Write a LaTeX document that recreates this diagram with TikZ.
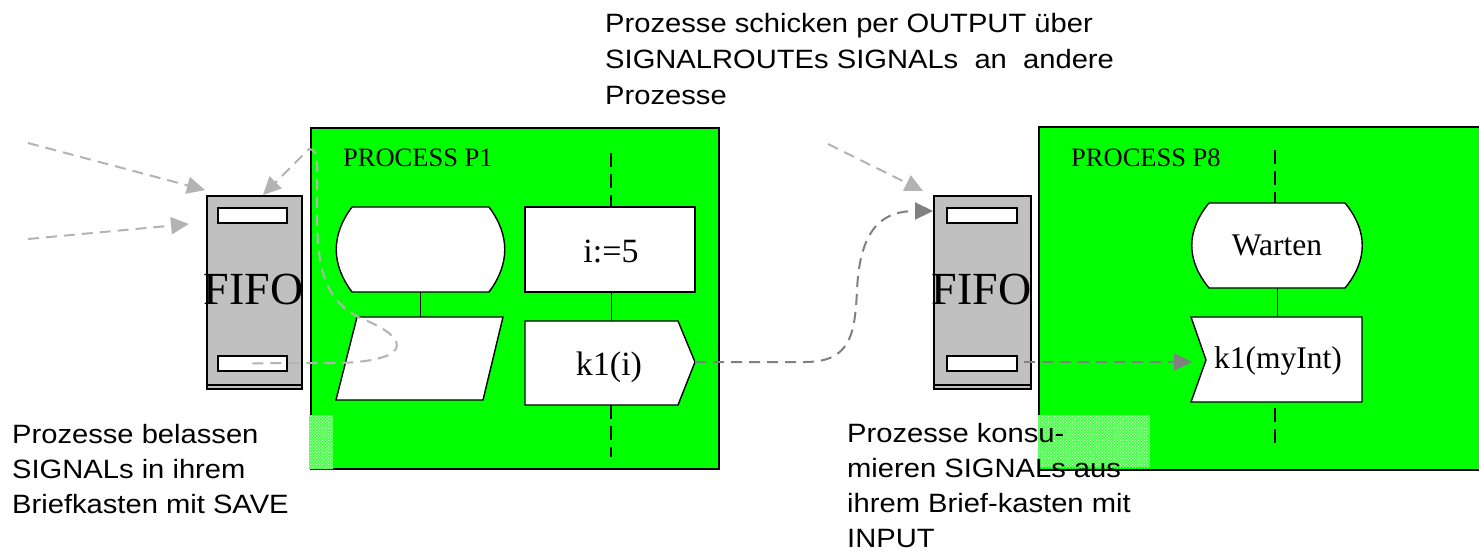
\documentclass[tikz,border=0pt]{standalone}
\usepackage{fontspec}
\setmainfont{Liberation Serif}
\newfontfamily\arialf[FakeStretch=1.1]{Liberation Sans}
\usetikzlibrary{arrows.meta,patterns}
\definecolor{procgreen}{HTML}{00FF00}
\definecolor{fifogrey}{HTML}{C0C0C0}
\definecolor{lightarrow}{HTML}{B3B3B3}
\definecolor{darkarrow}{HTML}{808080}
\tikzset{
  procbox/.style={fill=procgreen, draw=black, line width=2pt, inner sep=0pt, anchor=north west},
  fifobox/.style={fill=fifogrey, draw=black, line width=1.6pt, inner sep=0pt, anchor=north west, minimum width=95pt, minimum height=193pt},
  slotbox/.style={fill=white, draw=black, line width=1.6pt, inner sep=0pt, anchor=north west, minimum width=69pt, minimum height=15pt},
  symb/.style={fill=white, draw=black, line width=1.4pt, line join=miter},
  conn/.style={draw=black, line width=1pt},
  lifeline/.style={draw=black, line width=1.8pt, dash pattern=on 14pt off 7pt},
  sigarrow/.style={line width=2pt, dash pattern=on 11pt off 7pt, -{Triangle[length=18pt,width=17pt]}},
  lightsig/.style={sigarrow, draw=lightarrow, color=lightarrow},
  darksig/.style={sigarrow, draw=darkarrow, color=darkarrow},
  speckle/.style={fill=procgreen!70!white},
  fifotext/.style={font=\fontsize{46}{50}\selectfont, inner sep=0pt, anchor=base},
  proctitle/.style={font=\fontsize{26.5}{30}\selectfont, inner sep=0pt, anchor=base west},
  symtext/.style={font=\fontsize{34}{38}\selectfont, inner sep=0pt, anchor=base},
  symtextb/.style={font=\fontsize{31.5}{36}\selectfont, inner sep=0pt, anchor=base},
  note/.style={font=\arialf\fontsize{26.5}{35}\selectfont, inner sep=0pt, anchor=base west, align=left},
}
\begin{document}
\begin{tikzpicture}[x=1pt,y=-1pt]
\useasboundingbox (0,0) rectangle (1479,550);

% process boxes
\node[procbox, minimum width=408pt, minimum height=341pt] (p1) at (310,127) {};
\node[procbox, draw=none, minimum width=460pt, minimum height=341pt] (p8) at (1039,127) {};
\draw[line width=2pt] (p8.north east) -- (p8.north west) -- (p8.south west) -- (p8.south east);

% speckled overlap patches
\fill[speckle] (309,415) rectangle (333,469);
\fill[pattern=crosshatch dots, pattern color=white] (309,415) rectangle (333,469);
\fill[speckle] (1038,415) rectangle (1150,467);
\fill[pattern=crosshatch dots, pattern color=white] (1038,415) rectangle (1150,467);

\node[proctitle] (t1) at (343,166) {PROCESS P1};
\node[proctitle] (t8) at (1071,166) {PROCESS P8};

% FIFO 1
\node[fifobox] (fifo1) at (206,195) {};
\draw[line width=1.4pt] (206,385) -- (301,385);
\node[slotbox] (s1a) at (217,207) {};
\node[slotbox] (s1b) at (217,355) {};
\node[fifotext] (f1) at (253.5,304) {FIFO};

% FIFO 2
\node[fifobox, minimum width=97pt] (fifo2) at (933,195) {};
\draw[line width=1.4pt] (933,385) -- (1030,385);
\node[slotbox, minimum width=70pt] (s2a) at (946,207) {};
\node[slotbox, minimum width=70pt] (s2b) at (946,355) {};
\node[fifotext] (f2) at (981.5,304) {FIFO};

% P1 symbols
\draw[lifeline] (611,153) -- (611,207);
\draw[lifeline] (611,405) -- (611,457);
\draw[conn] (420,292) -- (420,317);
\draw[conn] (611,292) -- (611,321);
\draw[symb] (352,207) -- (489,207) .. controls (510,235) and (510,264) .. (489,292) -- (352,292) .. controls (331,264) and (331,235) .. (352,207) -- cycle;
\draw[symb] (357,317) -- (503,317) -- (483,400) -- (336,400) -- cycle;
\draw[symb] (525,207) rectangle (695,292);
\node[symtext] (assign) at (611,262) {i:=5};
\draw[symb] (525,321) -- (678,321) -- (695,362) -- (678,405) -- (525,405) -- cycle;
\coordinate (outtip) at (695,362);
\node[symtext] (out) at (609,375) {k1(i)};

% P8 symbols
\draw[lifeline] (1275,150) -- (1275,203);
\draw[lifeline] (1275,408) -- (1275,448);
\draw[conn] (1277,288) -- (1277,317);
\draw[symb] (1209,203) -- (1345,203) .. controls (1368,231) and (1368,260) .. (1345,288) -- (1209,288) .. controls (1186,260) and (1186,231) .. (1209,203) -- cycle;
\node[symtextb] (warten) at (1277,255) {Warten};
\draw[symb] (1191,317) -- (1362,317) -- (1362,402) -- (1191,402) -- (1206,360) -- cycle;
\coordinate (intip) at (1192,362);
\node[symtextb] (inp) at (1278,368) {k1(myInt)};

% signal arrows
\coordinate (l1) at (28,143);
\coordinate (l2) at (28,239);
\coordinate (l1t) at (205,190);
\coordinate (l2t) at (189,224);
\coordinate (r1) at (828,144);
\coordinate (r1t) at (923,191);
\coordinate (f1top) at (263,195);
\coordinate (f2in) at (933,211);
\coordinate (s2bx) at (1024,362);
\draw[lightsig] (l1) -- (l1t);
\draw[lightsig] (l2) -- (l2t);
\draw[lightsig] (r1) -- (r1t);
\draw[lightsig] (s1b.center) -- (340,363) .. controls (420,360) and (405,335) .. (360,318) .. controls (325,300) and (318,270) .. (317,220) -- (317,165) .. controls (317,153) and (314,149) .. (309,149) -- (f1top);
\draw[darksig] (outtip) -- (805,362) .. controls (850,362) and (855,335) .. (857,290) .. controls (860,225) and (885,211) .. (f2in);
\draw[darksig] (s2bx) -- (intip);

% notes (anchor = baseline of the last line)
\node[note, font=\arialf\fontsize{26.5}{36}\selectfont] (n1) at (605,104) {Prozesse schicken per OUTPUT über\\SIGNALROUTEs SIGNALs\ \ an\ \ andere\\Prozesse};
\node[note] (n2) at (12,513) {Prozesse belassen\\SIGNALs in ihrem\\Briefkasten mit SAVE};
\node[note] (n3) at (847,547) {Prozesse konsu-\\mieren SIGNALs aus\\ihrem Brief-kasten mit\\INPUT};
\end{tikzpicture}
\end{document}
